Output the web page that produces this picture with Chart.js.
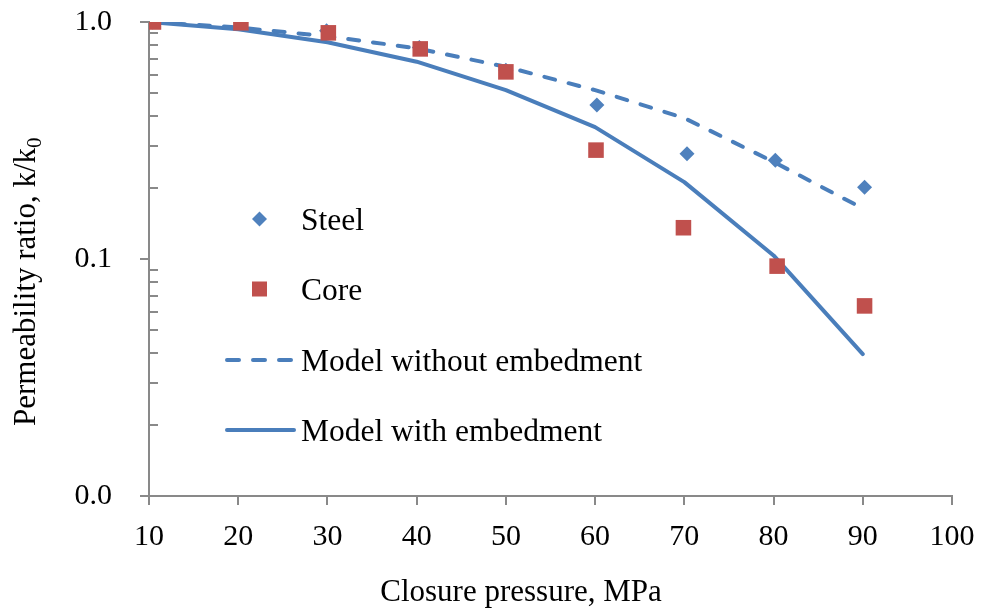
<!DOCTYPE html>
<html>
<head>
<meta charset="utf-8">
<script src="https://cdn.jsdelivr.net/npm/chart.js@4/dist/chart.umd.min.js"></script>
<style>
  html, body { margin: 0; padding: 0; background: #ffffff; }
  #wrap { width: 981px; height: 616px; position: relative; }
</style>
</head>
<body>
<div id="wrap"><canvas id="chart" width="981" height="616"></canvas></div>
<script>
// Measured permeability ratios versus closure pressure
const steelPressure = [10.4, 20.3, 29.9, 40.3, 50.0, 60.2, 70.3, 80.2, 90.2];
const steelRatio    = [1.0, 1.0, 0.918, 0.78, 0.626, 0.447, 0.278, 0.261, 0.201];

const corePressure  = [10.5, 20.3, 30.1, 40.4, 50.0, 60.1, 69.9, 80.4, 90.2];
const coreRatio     = [1.0, 0.992, 0.90, 0.77, 0.616, 0.288, 0.1355, 0.0933, 0.0634];

// Model predictions
const modelPressure       = [10, 20, 30, 40, 50, 60, 70, 80, 90];
const modelNoEmbedment    = [1.0, 0.948, 0.87, 0.775, 0.647, 0.516, 0.393, 0.257, 0.1635];
const modelWithEmbedment  = [1.0, 0.932, 0.822, 0.68, 0.516, 0.36, 0.211, 0.1035, 0.0397];

// Axis ticks
const xTickValues = [10, 20, 30, 40, 50, 60, 70, 80, 90, 100];
const yTickValues = [0.01, 0.1, 1];
const yTickLabels = ['0.0', '0.1', '1.0'];
const yMinorValues = [0.02, 0.03, 0.04, 0.05, 0.06, 0.07, 0.08, 0.09,
                      0.2, 0.3, 0.4, 0.5, 0.6, 0.7, 0.8, 0.9];

const seriesNames = ['Steel', 'Core', 'Model without embedment', 'Model with embedment'];

const BLUE = '#4A7EBB';
const RED = '#BE4B48';
const AXIS = '#898989';
const FONT = '"Liberation Serif", "Times New Roman", serif';
const LINE_W = 4;

const pairs = (xs, ys) => xs.map((x, i) => ({ x: x, y: ys[i] }));

// Small inward minor ticks on the log axis
const minorTicks = {
  id: 'minorTicks',
  afterDraw(chart) {
    const ys = chart.scales.y;
    const ctx = chart.ctx;
    const left = chart.chartArea.left;
    ctx.save();
    ctx.strokeStyle = AXIS;
    ctx.lineWidth = 2;
    yMinorValues.forEach(v => {
      const py = Math.round(ys.getPixelForValue(v));
      ctx.beginPath();
      ctx.moveTo(left, py);
      ctx.lineTo(left + 9, py);
      ctx.stroke();
    });
    ctx.restore();
  }
};

// Axis titles (the y title carries a subscript)
const axisTitles = {
  id: 'axisTitles',
  afterDraw(chart) {
    const ctx = chart.ctx;
    ctx.save();
    ctx.fillStyle = '#000';
    ctx.font = '31px ' + FONT;
    ctx.textAlign = 'center';
    ctx.textBaseline = 'alphabetic';
    ctx.fillText('Closure pressure, MPa', 521, 601);

    ctx.translate(35, 426);
    ctx.rotate(-Math.PI / 2);
    ctx.textAlign = 'left';
    const main = 'Permeability ratio, k/k';
    ctx.fillText(main, 0, 0);
    const w = ctx.measureText(main).width;
    ctx.font = '21px ' + FONT;
    ctx.fillText('0', w, 6);
    ctx.restore();
  }
};

// Legend drawn inside the plot area
const insideLegend = {
  id: 'insideLegend',
  afterDraw(chart) {
    const ctx = chart.ctx;
    const x0 = 225, x1 = 295, tx = 301;
    const rows = [219, 289, 360, 430];
    ctx.save();
    ctx.font = '31.5px ' + FONT;
    ctx.fillStyle = '#000';
    ctx.textAlign = 'left';
    ctx.textBaseline = 'alphabetic';
    seriesNames.forEach((name, i) => ctx.fillText(name, tx, rows[i] + 11));

    // diamond
    const cx = 259.5;
    ctx.fillStyle = '#4F81BD';
    ctx.beginPath();
    ctx.moveTo(cx - 7.5, rows[0]);
    ctx.lineTo(cx, rows[0] - 7.5);
    ctx.lineTo(cx + 7.5, rows[0]);
    ctx.lineTo(cx, rows[0] + 7.5);
    ctx.closePath();
    ctx.fill();
    // square
    ctx.fillStyle = '#C0504D';
    ctx.fillRect(cx - 7.5, rows[1] - 7.5, 15, 15);

    ctx.strokeStyle = BLUE;
    ctx.lineWidth = LINE_W;
    ctx.lineCap = 'round';
    ctx.setLineDash([12, 14]);
    ctx.beginPath();
    ctx.moveTo(x0 + 2, rows[2]);
    ctx.lineTo(x1, rows[2]);
    ctx.stroke();
    ctx.setLineDash([]);
    ctx.beginPath();
    ctx.moveTo(x0 + 2, rows[3]);
    ctx.lineTo(x1 - 1, rows[3]);
    ctx.stroke();
    ctx.restore();
  }
};

new Chart(document.getElementById('chart'), {
  type: 'scatter',
  data: {
    datasets: [
      {
        label: seriesNames[1],
        data: pairs(corePressure, coreRatio),
        pointStyle: 'rect',
        pointRadius: 11,
        backgroundColor: '#C0504D',
        borderColor: RED,
        borderWidth: 0,
        showLine: false
      },
      {
        label: seriesNames[0],
        data: pairs(steelPressure, steelRatio),
        pointStyle: 'rectRot',
        pointRadius: 7.5,
        backgroundColor: '#4F81BD',
        borderColor: BLUE,
        borderWidth: 0,
        showLine: false
      },
      {
        label: seriesNames[2],
        data: pairs(modelPressure, modelNoEmbedment),
        showLine: true,
        pointRadius: 0,
        borderColor: BLUE,
        borderWidth: LINE_W,
        borderDash: [11, 14],
        borderCapStyle: 'round',
        borderJoinStyle: 'round',
        tension: 0,
        fill: false
      },
      {
        label: seriesNames[3],
        data: pairs(modelPressure, modelWithEmbedment),
        showLine: true,
        pointRadius: 0,
        borderColor: BLUE,
        borderWidth: LINE_W,
        borderCapStyle: 'round',
        borderJoinStyle: 'round',
        tension: 0,
        fill: false
      }
    ]
  },
  options: {
    responsive: false,
    animation: false,
    events: [],
    layout: { padding: { top: 22, right: 29, left: 0, bottom: 0 } },
    plugins: {
      legend: { display: false },
      tooltip: { enabled: false },
      title: { display: false }
    },
    scales: {
      x: {
        type: 'linear',
        min: 10,
        max: 100,
        afterBuildTicks: s => { s.ticks = xTickValues.map(v => ({ value: v })); },
        afterFit: s => { s.height = 120; s.paddingLeft = 0; s.paddingRight = 0; },
        ticks: {
          color: '#000',
          font: { family: FONT, size: 30 },
          padding: 14,
          maxRotation: 0,
          autoSkip: false
        },
        grid: {
          display: true,
          drawOnChartArea: false,
          drawTicks: true,
          tickLength: 9,
          color: AXIS,
          lineWidth: 2
        },
        border: { display: true, color: AXIS, width: 2 }
      },
      y: {
        type: 'logarithmic',
        min: 0.01,
        max: 1,
        afterBuildTicks: s => { s.ticks = yTickValues.map(v => ({ value: v })); },
        afterFit: s => { s.width = 149; s.paddingTop = 0; s.paddingBottom = 0; },
        ticks: {
          color: '#000',
          font: { family: FONT, size: 30 },
          padding: 28,
          autoSkip: false,
          callback: (v) => {
            const i = yTickValues.indexOf(v);
            return i >= 0 ? yTickLabels[i] : '';
          }
        },
        grid: {
          display: true,
          drawOnChartArea: false,
          drawTicks: true,
          tickLength: 9,
          color: AXIS,
          lineWidth: 2
        },
        border: { display: true, color: AXIS, width: 2 }
      }
    }
  },
  plugins: [minorTicks, axisTitles, insideLegend]
});
</script>
</body>
</html>
